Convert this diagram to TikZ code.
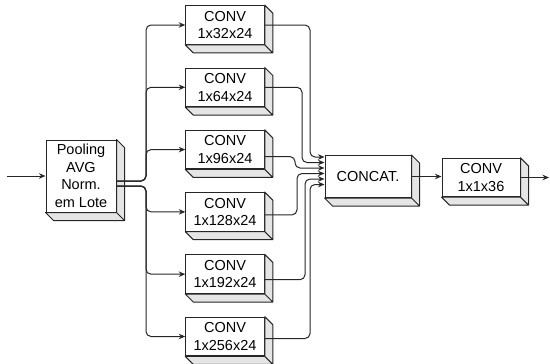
\documentclass[tikz,border=0pt]{standalone}
\usepackage{fontspec}
\setmainfont{Liberation Sans}
\usetikzlibrary{arrows.meta}

\begin{document}
\begin{tikzpicture}[x=1pt, y=-1pt,
  cube/.style={draw=black!85, line width=1pt, fill=white, inner sep=0pt, align=center,
    font=\fontsize{14.5}{17.5}\selectfont, minimum width=78.5pt, minimum height=38.6pt},
  face/.style={draw=black!85, line width=1pt, fill=black!10, line join=round},
  link/.style={draw=black!85, line width=1pt, rounded corners=5pt, -{Stealth[length=6.5pt,width=5.5pt]}}]
  \useasboundingbox (0,0) rectangle (550,364);

  \node[cube, minimum width=70pt, minimum height=72pt] (pool) at (81,176) {Pooling\\AVG\\Norm.\\em Lote};
  \node[cube] (c1) at (225,25) {CONV\\1x32x24};
  \node[cube] (c2) at (225,87.3) {CONV\\1x64x24};
  \node[cube] (c3) at (225,149.6) {CONV\\1x96x24};
  \node[cube] (c4) at (225,211.9) {CONV\\1x128x24};
  \node[cube] (c5) at (225,274.2) {CONV\\1x192x24};
  \node[cube] (c6) at (225,336.5) {CONV\\1x256x24};
  \node[cube, minimum width=86pt, minimum height=42pt] (cat) at (368,176.5) {CONCAT.};
  \node[cube, minimum width=78pt, minimum height=38.4pt] (fin) at (481,177.5) {CONV\\1x1x36};

  % side and bottom faces of the boxes
  \foreach \n in {pool,c1,c2,c3,c4,c5,c6,cat,fin}
    \draw[face] (\n.north east) -- ++(8,8) -- ([shift={(8,8)}]\n.south east)
      -- ([shift={(8,8)}]\n.south west) -- (\n.south west) -- (\n.south east) -- cycle
      (\n.south east) -- ++(8,8);

  \coordinate (in) at (7,176);
  \coordinate (out) at (549,0);
  \coordinate (tr) at (146,0);
  \coordinate (pu) at ([yshift=-5pt]pool.east);
  \coordinate (pd) at ([yshift=-10pt]pool.east);
  \foreach \i/\dy in {1/19.5,2/14,3/8.5,4/3,5/-2.5,6/-8}
    \coordinate (k\i) at ([yshift=\dy pt]cat.west);

  \draw[link] (in) -- (pool.west);
  \foreach \i in {1,2,3}
    \draw[link] (pu) -- (pu -| tr) |- (c\i.west);
  \foreach \i in {4,5,6}
    \draw[link] (pd) -- (pd -| tr) |- (c\i.west);
  \foreach \i/\vx/\dy in {1/310/0,2/302/0,3/295/-7,4/297/-3,5/305/-5.5,6/310/-2}
    \draw[link] ([yshift=\dy pt]c\i.east) -- ([yshift=\dy pt]c\i.east -| \vx,0) |- (k\i);
  \draw[link] (cat.east) -- (cat.east -| fin.west);
  \draw[link] (fin.east) -- (fin.east -| out);
\end{tikzpicture}
\end{document}
